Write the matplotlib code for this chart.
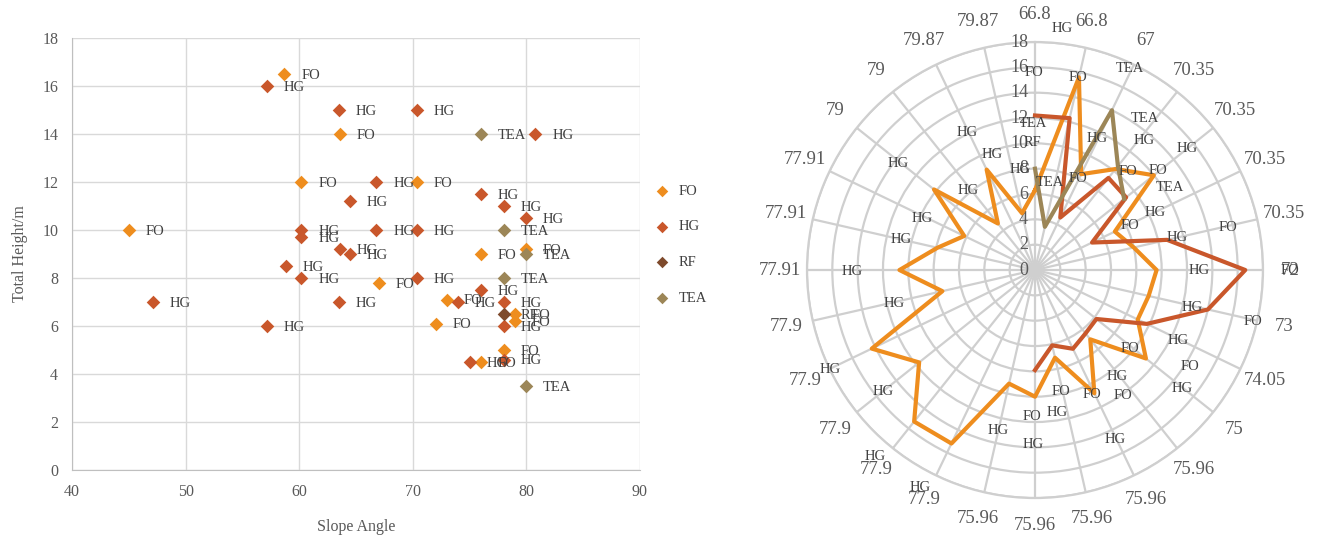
import numpy as np
import matplotlib
matplotlib.use('Agg')
import matplotlib.pyplot as plt

plt.rcParams['font.family'] = ['Liberation Serif', 'DejaVu Serif']

# ---- scatter data (slope angle vs total height) ----
fo_x = [58.7, 63.6, 60.2, 70.4, 45.0, 76.0, 80.0, 67.0, 73.0, 72.0, 79.0, 79.0, 78.0, 76.0]
fo_y = [16.5, 14.0, 12.0, 12.0, 10.0, 9.0, 9.2, 7.8, 7.1, 6.1, 6.5, 6.2, 5.0, 4.5]

hg_x = [57.2, 63.5, 70.4, 80.8, 66.8, 64.5, 76.0, 78.0, 80.0, 60.2, 60.2, 66.8, 70.4, 63.6,
        64.5, 58.8, 60.2, 63.5, 47.1, 57.2, 70.4, 74.0, 76.0, 78.0, 78.0, 75.0, 78.0]
hg_y = [16.0, 15.0, 15.0, 14.0, 12.0, 11.2, 11.5, 11.0, 10.5, 10.0, 9.7, 10.0, 10.0, 9.2,
        9.0, 8.5, 8.0, 7.0, 7.0, 6.0, 8.0, 7.0, 7.5, 7.0, 6.0, 4.5, 4.6]

rf_x = [78.0]
rf_y = [6.5]

tea_x = [76.0, 78.0, 80.0, 78.0, 80.0]
tea_y = [14.0, 10.0, 9.0, 8.0, 3.5]

# ---- radar data ----
radar_cats = ['66.8', '66.8', '67', '70.35', '70.35', '70.35', '70.35', '72', '73', '74.05',
              '75', '75.96', '75.96', '75.96', '75.96', '75.96', '77.9', '77.9', '77.9', '77.9',
              '77.9', '77.91', '77.91', '77.91', '79', '79', '79.87', '79.87']
radar_fo = [6.3, 15.6, 8.4, 10.2, 12.0, 7.0, 8.0, 9.6, 9.2, 9.0, 11.2, 7.0, 10.8, 7.1,
            10.0, 9.2, 15.2, 15.3, 11.7, 14.3, 7.5, 10.7, 7.9, 6.2, 10.2, 4.7, 8.8, 4.6]
radar_hg = [12.2, 12.3, 4.6, 9.3, 9.2, 5.0, 10.7, 16.6, 14.0, 9.8, 6.2, 6.4, 6.9, 6.1, 7.9]
radar_tea = [8.0, 3.5, 14.0, 10.5, 9.0]

# data label spots on the radar (angle clockwise from top in degrees, radius)
fo_lab_ang = [359.7, 12.6, 25.1, 43.5, 50.9, 64.7, 77.7, 90.0, 103.4, 129.4, 122.0, 168.0, 155.5, 144.9, 181.2]
fo_lab_r = [15.6, 15.6, 8.0, 10.7, 12.5, 8.3, 15.6, 20.1, 17.7, 9.7, 14.4, 9.8, 10.8, 12.1, 11.6]
hg_lab_ang = [6.4, 351.5, 25.2, 40.2, 51.4, 64.2, 77.3, 90.0, 103.5, 116.1, 142.5, 128.8, 171.3, 180.7,
              154.8, 193.0, 207.9, 220.6, 231.3, 244.0, 256.7, 269.4, 282.7, 294.7, 320.0, 308.0, 333.8, 339.5]
hg_lab_r = [19.2, 8.0, 11.5, 13.4, 15.4, 10.5, 11.5, 13.0, 12.8, 12.6, 10.6, 14.9, 11.4, 13.8,
            14.8, 13.0, 19.4, 19.4, 15.4, 18.0, 11.4, 14.4, 10.8, 9.8, 8.2, 13.7, 12.1, 9.7]
tea_lab_ang = [359.2, 9.8, 25.2, 35.9, 58.4]
tea_lab_r = [11.6, 7.0, 17.6, 14.8, 12.5]
rf_lab_ang = [358.7]
rf_lab_r = [10.1]

c_fo = '#EE8D1E'
c_hg = '#C9572B'
c_rf = '#7E4A2C'
c_tea = '#9C8657'
txt = '#404040'
tick_c = '#595959'
grid_c = '#D9D9D9'

fig = plt.figure(figsize=(13.22, 5.38), dpi=100)

# ---------------- scatter ----------------
ax = fig.add_axes([0.0545, 0.1264, 0.4296, 0.803])
series = [('FO', fo_x, fo_y, c_fo), ('HG', hg_x, hg_y, c_hg),
          ('RF', rf_x, rf_y, c_rf), ('TEA', tea_x, tea_y, c_tea)]
for name, xs, ys, col in series:
    ax.scatter(xs, ys, marker='D', s=48, color=col, label=name, zorder=3, linewidths=0)
    for x, y in zip(xs, ys):
        ax.annotate(name, (x, y), xytext=(12, -1), textcoords='offset points',
                    ha='left', va='center', fontsize=10.5, color=txt, zorder=4)

ax.set_xlim(40, 90)
ax.set_ylim(0, 18)
ax.set_xticks(range(40, 91, 10))
ax.set_yticks(range(0, 19, 2))
ax.grid(True, color=grid_c, lw=1)
ax.set_axisbelow(True)
for s in ['top', 'right']:
    ax.spines[s].set_visible(False)
for s in ['left', 'bottom']:
    ax.spines[s].set_color('#BFBFBF')
ax.tick_params(length=0, labelsize=11.5, colors=tick_c, pad=10)
ax.set_xlabel('Slope Angle', fontsize=11.5, color=tick_c, labelpad=14)
ax.set_ylabel('Total Height/m', fontsize=11.5, color=tick_c, labelpad=10)

fig.legend(loc='center left', bbox_to_anchor=(0.48, 0.545), frameon=False,
           fontsize=10.5, labelspacing=1.55, handletextpad=0.1, markerscale=0.85,
           labelcolor=txt)

# ---------------- radar ----------------
n = len(radar_cats)
theta = np.linspace(0, 2 * np.pi, n, endpoint=False)

rax = fig.add_axes([0.6104, 0.0743, 0.345, 0.8476], projection='polar')
rax.set_theta_zero_location('N')
rax.set_theta_direction(-1)
rax.set_ylim(0, 18)
rax.set_yticks(range(0, 19, 2))
rax.set_yticklabels([])
rax.set_xticks(theta)
rax.set_xticklabels(radar_cats)
rax.tick_params(axis='x', pad=9, labelsize=13.5, labelcolor=tick_c)
rax.grid(True, color='#CFCFCF', lw=1.6)
rax.spines['polar'].set_color('#CFCFCF')
rax.spines['polar'].set_linewidth(1.6)

for v in range(0, 19, 2):
    rax.annotate(str(v), (0, v), xytext=(-5, 0), textcoords='offset points',
                 ha='right', va='center', fontsize=13, color=tick_c)

fo_closed = radar_fo + radar_fo[:1]
th_closed = np.append(theta, theta[0])
rax.plot(th_closed, fo_closed, color=c_fo, lw=3, zorder=3)
rax.plot(theta[:len(radar_hg)], radar_hg, color=c_hg, lw=3, zorder=3)
rax.plot(theta[:len(radar_tea)], radar_tea, color=c_tea, lw=3, zorder=3)

for name, angs, rs in [('FO', fo_lab_ang, fo_lab_r), ('HG', hg_lab_ang, hg_lab_r),
                       ('TEA', tea_lab_ang, tea_lab_r), ('RF', rf_lab_ang, rf_lab_r)]:
    for a, r in zip(angs, rs):
        rax.text(np.deg2rad(a), r, name, ha='center', va='center', fontsize=10.5,
                 color=txt, zorder=5, clip_on=False)

fig.savefig('out.png', dpi=100)
